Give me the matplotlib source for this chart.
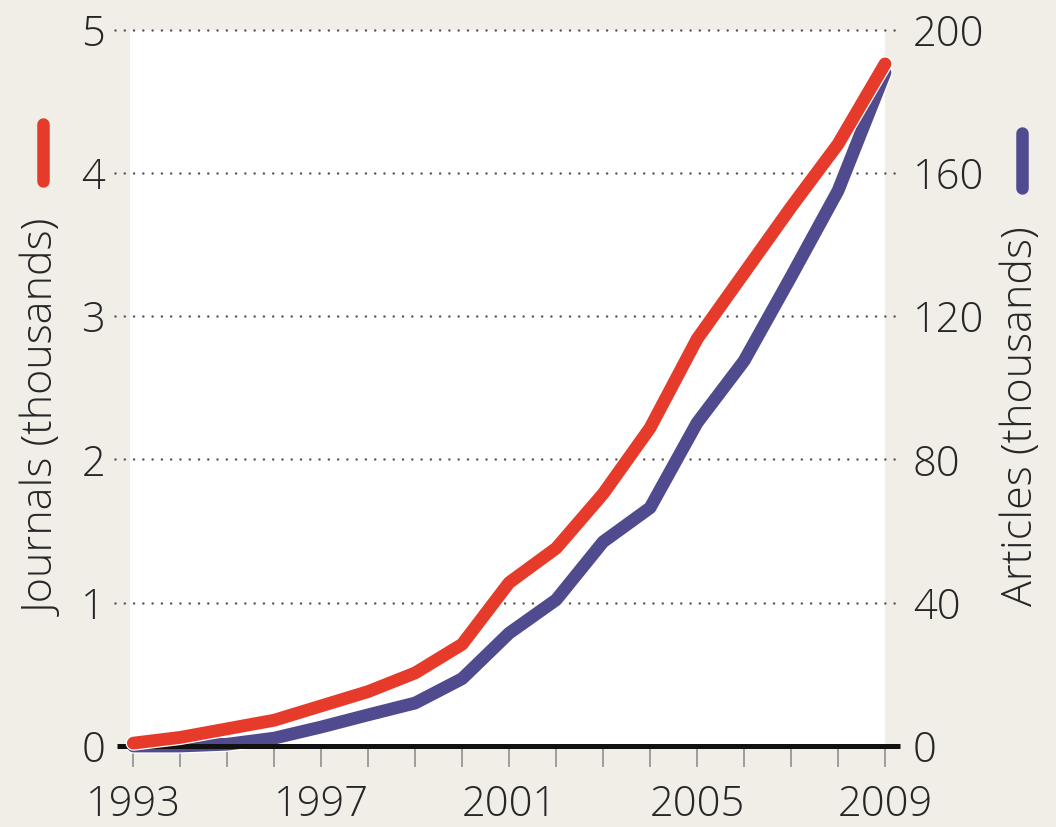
import matplotlib
matplotlib.use("Agg")
import matplotlib.pyplot as plt
import matplotlib.patheffects as pe
from matplotlib.transforms import blended_transform_factory

years = list(range(1993, 2010))
journals_k = [0.02, 0.06, 0.12, 0.18, 0.28, 0.38, 0.51, 0.71, 1.14, 1.38, 1.76, 2.22, 2.84, 3.30, 3.76, 4.20, 4.76]
articles_k = [0.0, 0.0, 0.5, 2.2, 5.3, 8.7, 12.0, 18.8, 31.5, 40.8, 57.0, 66.5, 90.2, 107.5, 131.0, 155.0, 188.0]
left_ticks = [0, 1, 2, 3, 4, 5]
right_ticks = [0, 40, 80, 120, 160, 200]
xlabel_years = [1993, 1997, 2001, 2005, 2009]

RED = "#e63a2b"
BLUE = "#4f4b8e"
BG = "#f1eee8"
TXT = "#262626"
FONT = "Open Sans"
FW = "light"
W, H = 1056, 827

plt.rcParams["font.family"] = [FONT, "DejaVu Sans"]
plt.rcParams["font.weight"] = FW

fig = plt.figure(figsize=(W / 100, H / 100), dpi=100, facecolor=BG)
left, right, bottom, top = 130 / W, 885 / W, 1 - 746 / H, 1 - 29.5 / H
ax2 = fig.add_axes([left, bottom, right - left, top - bottom])
ax = ax2.twinx()
# ax holds journals (left scale), ax2 articles (right scale)
ax.yaxis.tick_left()
ax2.yaxis.tick_right()
ax.set_zorder(ax2.get_zorder() + 1)
ax.patch.set_visible(False)
ax2.set_facecolor("white")

ax2.set_xlim(1992.93, 2009.0)
ax.set_ylim(0, 5)
ax2.set_ylim(0, 200)

for a in (ax, ax2):
    for s in a.spines.values():
        s.set_visible(False)

# dotted grid lines (extending beyond the plot area)
tr2 = blended_transform_factory(ax2.transAxes, ax2.transData)
for v in right_ticks[1:]:
    ax2.plot([-0.02, 1.0225], [v, v], transform=tr2, clip_on=False,
             color="#555555", lw=1.8, linestyle=(0, (0.01, 3.7)),
             dash_capstyle="round", zorder=1)

halo = [pe.withStroke(linewidth=11, foreground="white")]
ax2.plot(years, articles_k, color=BLUE, lw=9.2, solid_capstyle="round",
         solid_joinstyle="round", zorder=3, clip_on=False, path_effects=halo)
ax.plot(years, journals_k, color=RED, lw=9.2, solid_capstyle="round",
        solid_joinstyle="round", zorder=3, clip_on=False, path_effects=halo)

# black baseline
tr = blended_transform_factory(ax.transAxes, ax.transData)
ax.plot([-0.017, 1.02], [0, 0], transform=tr, color="#111111", lw=3.6,
        solid_capstyle="butt", clip_on=False, zorder=2)

# ticks
ax2.set_xticks(years)
ax2.set_xticklabels([str(y) if y in xlabel_years else "" for y in years])
ax2.tick_params(axis="x", length=15, width=1.1, color="#888888", pad=12,
                labelsize=30, labelcolor=TXT, direction="out")
ax.set_yticks(left_ticks)
ax.set_yticklabels([str(v) for v in left_ticks])
ax.tick_params(axis="y", length=0, pad=18, labelsize=30, labelcolor=TXT)
ax2.set_yticks(right_ticks)
ax2.set_yticklabels([str(v) for v in right_ticks])
ax2.tick_params(axis="y", length=0, pad=20, labelsize=30, labelcolor=TXT)

# axis titles
fig.text(45 / W, 1 - 418 / H, "Journals (thousands)", rotation=90, ha="center",
         va="center", fontsize=31, color=TXT)
fig.text(1021 / W, 1 - 416 / H, "Articles (thousands)", rotation=90, ha="center",
         va="center", fontsize=31, color=TXT)

# colour keys
fig.add_artist(plt.Line2D([43 / W, 43 / W], [1 - 124 / H, 1 - 181 / H], color=RED,
                          lw=9, solid_capstyle="round"))
fig.add_artist(plt.Line2D([1022 / W, 1022 / W], [1 - 133 / H, 1 - 188 / H], color=BLUE,
                          lw=9, solid_capstyle="round"))

fig.savefig("out.png", dpi=100, facecolor=BG)
